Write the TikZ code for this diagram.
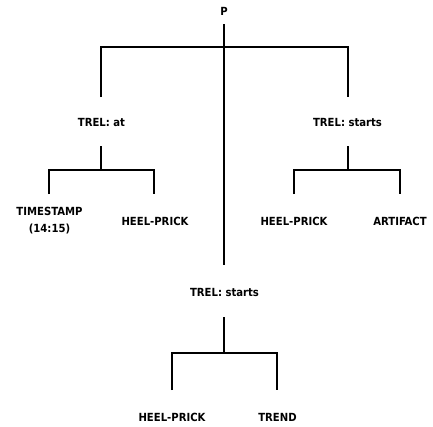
\documentclass[tikz,border=0pt]{standalone}
\usepackage{fontspec}
\setmainfont{DejaVu Sans Condensed}
\begin{document}
\begin{tikzpicture}[x=1pt,y=-1pt,
  lbl/.style={font=\bfseries\fontsize{11.2}{16.5}\selectfont, inner sep=0pt, align=center},
  ln/.style={line width=2pt}]
\useasboundingbox (0,0) rectangle (433,426);
\node[lbl] (p) at (224,11) {P};
\node[lbl] (a) at (101.5,122) {TREL: at};
\node[lbl] (s1) at (347.5,122) {TREL: starts};
\node[lbl] (ts) at (49.5,220.5) {TIMESTAMP\\(14:15)};
\node[lbl] (h1) at (155,221) {HEEL-PRICK};
\node[lbl] (h2) at (294,221) {HEEL-PRICK};
\node[lbl] (art) at (400,221) {ARTIFACT};
\node[lbl] (s2) at (224.5,292) {TREL: starts};
\node[lbl] (h3) at (172,417) {HEEL-PRICK};
\node[lbl] (tr) at (277.5,417) {TREND};
% top
\coordinate (pt) at (224,24);
\coordinate (pb) at (224,47);
\draw[ln] (pt) -- (pb);
\draw[ln] (101,97) -- (101,47) -- (348,47) -- (348,97);
\draw[line width=1.4pt] (pb) -- (224,265);
% left subtree
\draw[ln] (101,146) -- (101,170);
\draw[ln] (49,194) -- (49,170) -- (154,170) -- (154,194);
% right subtree
\draw[ln] (348,146) -- (348,170);
\draw[ln] (294,194) -- (294,170) -- (400,170) -- (400,194);
% bottom subtree
\draw[ln] (224,317) -- (224,353);
\draw[ln] (172,390) -- (172,353) -- (277,353) -- (277,390);
\end{tikzpicture}
\end{document}
